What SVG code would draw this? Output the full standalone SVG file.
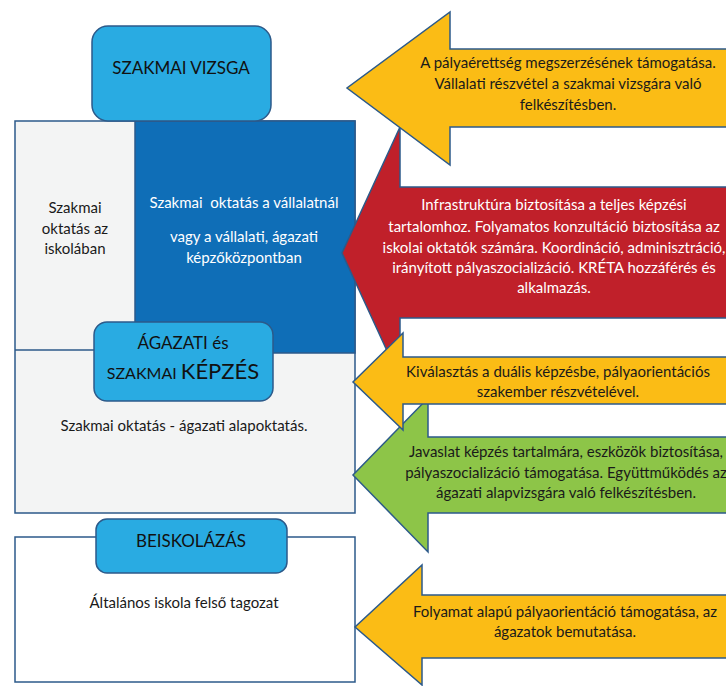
<svg xmlns="http://www.w3.org/2000/svg" width="726" height="686" viewBox="0 0 726 686">
<style>
  text { font-family: Lato, "Liberation Sans", sans-serif; text-anchor: middle; }
  .lbl { fill: #29abe2; stroke: #2c5a8a; stroke-width: 1.5; }
  .frame { stroke: #2c5a8a; stroke-width: 1.5; }
  .arr { stroke: #2c5a8a; stroke-width: 1.5; stroke-linejoin: miter; }
  .t { font-size: 15px; fill: #1a1a1a; }
  .w { font-size: 15px; fill: #ffffff; }
  .h { font-size: 17px; fill: #111111; }
</style>

<g id="training-frame">
  <rect class="frame" x="15" y="121" width="340" height="392" fill="#f3f4f4"/>
  <line class="frame" x1="15" y1="350" x2="135" y2="350"/>
</g>
<g id="school-panel">
  <text class="t" x="75" y="213">Szakmai</text>
  <text class="t" x="75" y="234">oktatás az</text>
  <text class="t" x="75" y="254">iskolában</text>
</g>
<g id="company-panel">
  <rect class="frame" x="135" y="121" width="220" height="232" fill="#0f6eb7"/>
  <text class="w" x="244" y="208" xml:space="preserve">Szakmai  oktatás a vállalatnál</text>
  <text class="w" x="244" y="242">vagy a vállalati, ágazati</text>
  <text class="w" x="244" y="263">képzőközpontban</text>
</g>
<g id="vizsga">
  <rect class="lbl" x="92" y="26" width="179" height="95" rx="16"/>
  <text class="h" x="181" y="74">SZAKMAI VIZSGA</text>
</g>
<g id="agazati">
  <rect class="lbl" x="94" y="322" width="179" height="79" rx="13"/>
  <text class="h" x="183" y="349">ÁGAZATI és</text>
  <text x="183" y="379" fill="#111"><tspan font-size="16px">SZAKMAI </tspan><tspan font-size="22px">KÉPZÉS</tspan></text>
  <text class="t" x="184" y="431">Szakmai oktatás - ágazati alapoktatás.</text>
</g>
<g id="beiskolazas">
  <rect class="frame" x="15" y="537" width="340" height="145" fill="#ffffff"/>
  <rect class="lbl" x="96" y="519" width="191" height="54" rx="11"/>
  <text class="h" x="191" y="547">BEISKOLÁZÁS</text>
  <text class="t" x="184" y="608">Általános iskola felső tagozat</text>
</g>

<g id="connectors">
  <g id="arrow-red">
    <polygon class="arr" fill="#c0202a" points="730,187 400,187 400,127 342,253 400,379 400,318 730,318"/>
    <text class="w" x="554" y="210">Infrastruktúra biztosítása a teljes képzési</text>
    <text class="w" x="554" y="232">tartalomhoz. Folyamatos konzultáció biztosítása az</text>
    <text class="w" x="554" y="253">iskolai oktatók számára. Koordináció, adminisztráció,</text>
    <text class="w" x="554" y="273">irányított pályaszocializáció. KRÉTA hozzáférés és</text>
    <text class="w" x="554" y="293">alkalmazás.</text>
  </g>
  <g id="arrow-yellow-top">
    <polygon class="arr" fill="#fbbc15" points="730,49 450,49 450,12 347,88 450,165 450,127 730,127"/>
    <text class="t" x="568" y="68">A pályaérettség megszerzésének támogatása.</text>
    <text class="t" x="568" y="89">Vállalati részvétel a szakmai vizsgára való</text>
    <text class="t" x="568" y="110">felkészítésben.</text>
  </g>
  <g id="arrow-green">
    <polygon class="arr" fill="#8dc548" points="730,437 428,437 428,398 353,475 428,552 428,513 730,513"/>
    <text class="t" x="566" y="457">Javaslat képzés tartalmára, eszközök biztosítása,</text>
    <text class="t" x="566" y="478">pályaszocializáció támogatása. Együttműködés az</text>
    <text class="t" x="566" y="498">ágazati alapvizsgára való felkészítésben.</text>
  </g>
  <g id="arrow-yellow-mid">
    <polygon class="arr" fill="#fbbc15" points="730,357 403,357 403,333 353,382 403,430 403,404 730,404"/>
    <text class="t" x="558" y="377">Kiválasztás a duális képzésbe, pályaorientációs</text>
    <text class="t" x="558" y="397">szakember részvételével.</text>
  </g>
  <g id="arrow-yellow-bottom">
    <polygon class="arr" fill="#fbbc15" points="730,595 422,595 422,565 355,627 422,685 422,658 730,658"/>
    <text class="t" x="565" y="617">Folyamat alapú pályaorientáció támogatása, az</text>
    <text class="t" x="565" y="637">ágazatok bemutatása.</text>
  </g>
</g>
</svg>
